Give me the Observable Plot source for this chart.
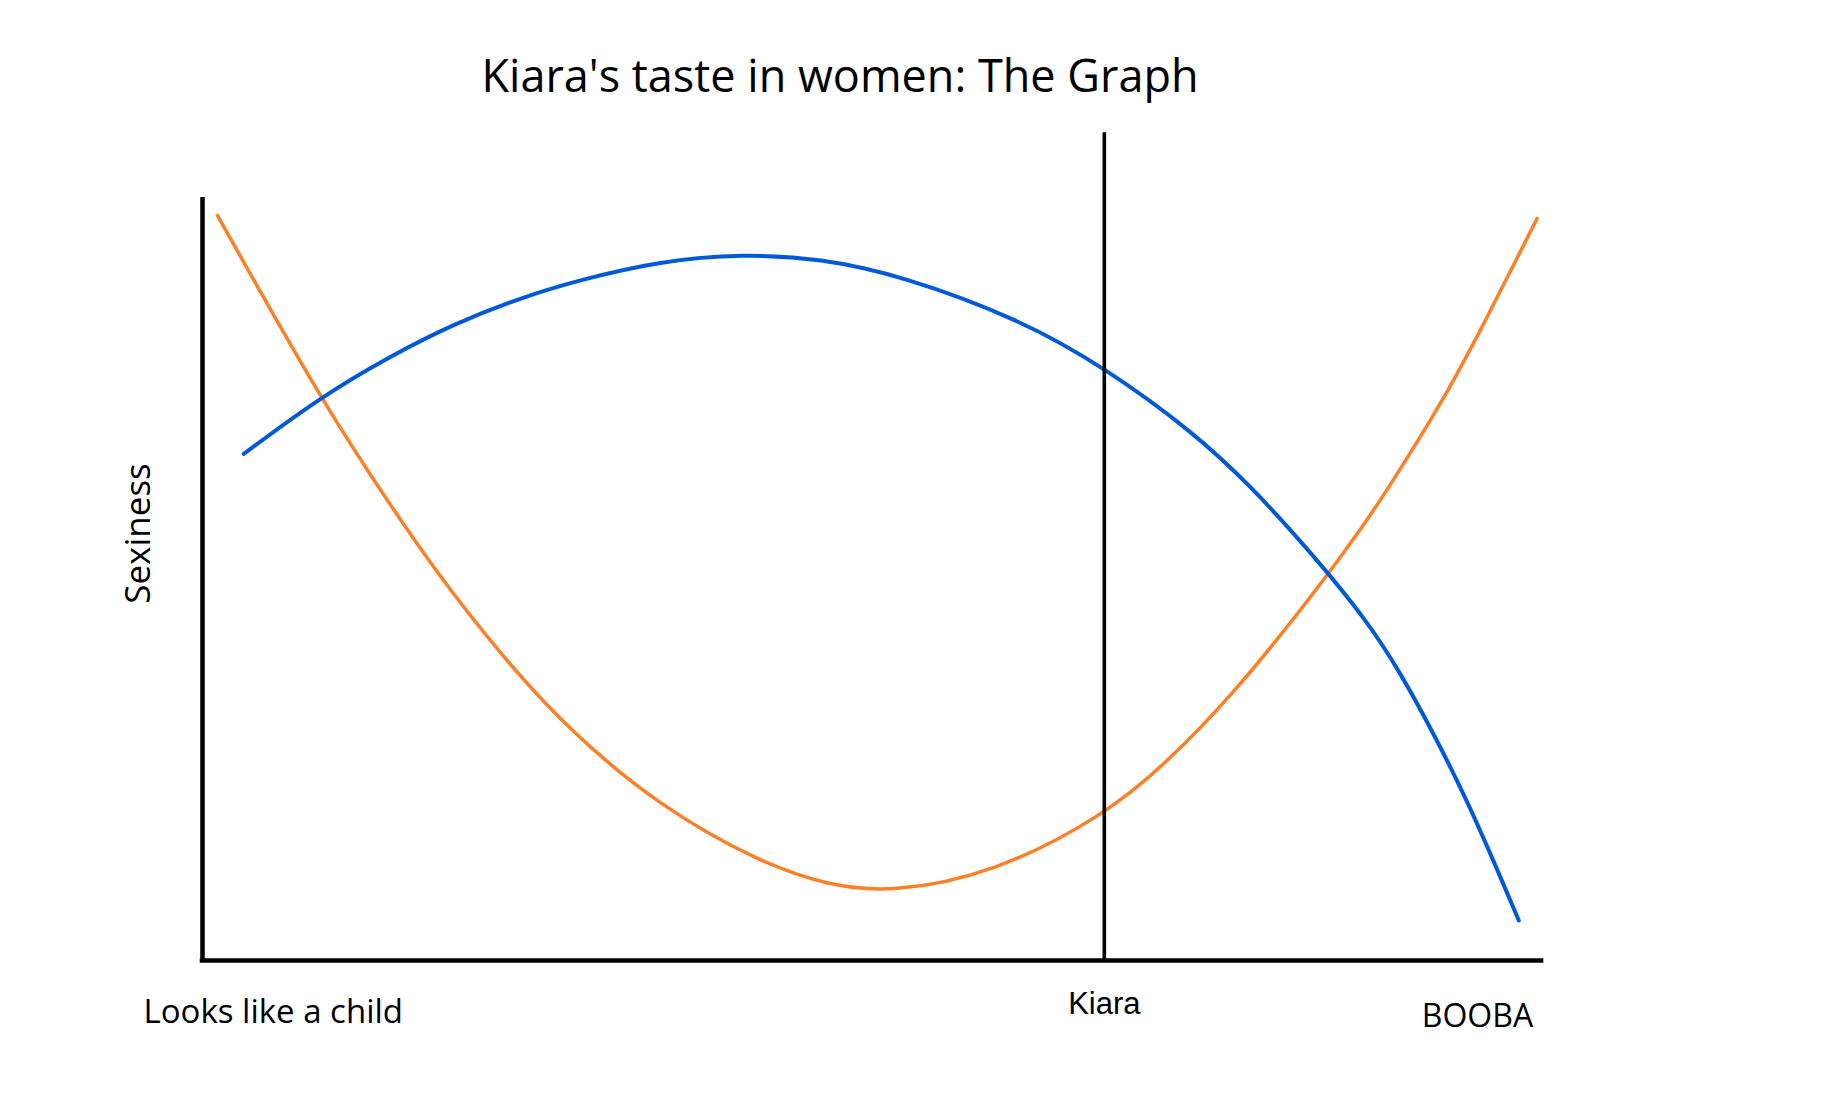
<!DOCTYPE html>
<html>
<head>
<meta charset="utf-8">
<script src="https://cdn.jsdelivr.net/npm/d3@7"></script>
<script src="https://cdn.jsdelivr.net/npm/@observablehq/plot@0.6"></script>
<style>
  html, body { margin: 0; padding: 0; background: #fff; }
</style>
</head>
<body>
<div id="chart"></div>
<script>
// ---- data ----
const title = "Kiara's taste in women: The Graph";
const yLabel = "Sexiness";

// blue curve (x: "child" → "BOOBA", y: sexiness)
const blueX = [3.08, 8.81, 13.78, 18.75, 23.73, 27.96, 34.18, 40.37, 46.12, 52.09, 61.04, 67.31, 73.88, 78.21, 82.91, 86.92, 89.40, 91.89, 94.38, 96.87, 98.23];
const blueY = [66.41, 73.83, 78.99, 83.45, 86.85, 89.12, 91.7, 92.6, 92.0, 89.8, 84.01, 77.72, 69.33, 62.25, 53.1, 44.5, 37.7, 29.71, 20.97, 10.92, 5.24];

// orange curve
const orangeX = [1.12, 3.83, 8.81, 12.29, 17.31, 22.50, 27.36, 34.18, 41.64, 46.78, 51.34, 59.03, 67.31, 71.99, 76.96, 81.94, 85.43, 87.91, 90.40, 92.89, 95.37, 97.86, 99.60];
const orangeY = [97.64, 89.12, 73.83, 64.22, 51.11, 39.58, 30.14, 20.1, 12.8, 9.8, 8.9, 11.4, 19.0, 25.95, 34.99, 45.87, 54.00, 60.29, 67.23, 74.44, 82.57, 91.22, 97.25];

// Kiara marker
const kiaraX = [67.3];
const kiaraTop = [108.5];

// x tick labels
const tickLabels = ["Looks like a child", "Kiara", "BOOBA"];
const tickX = [-4.4, 67.3, 99.3];

// ---- build ----
const blue = blueX.map((x, i) => ({x, y: blueY[i]}));
const orange = orangeX.map((x, i) => ({x, y: orangeY[i]}));
const ticks = tickLabels.map((label, i) => ({label, x: tickX[i]}));

const segoe = "'Open Sans', 'Noto Sans', sans-serif";

const chart = Plot.plot({
  width: 1846,
  height: 1117,
  marginLeft: 202,
  marginRight: 304,
  marginTop: 197,
  marginBottom: 157,
  x: {domain: [0, 100], axis: null},
  y: {domain: [0, 100], axis: null},
  style: {background: "#fff", overflow: "visible"},
  marks: [
    Plot.line(orange, {x: "x", y: "y", curve: "basis", stroke: "#ff7f27", strokeWidth: 3.5}),
    Plot.line(blue, {x: "x", y: "y", curve: "basis", stroke: "#005ad8", strokeWidth: 4}),
    Plot.ruleX(kiaraX, {x: d => d, y1: 0, y2: (d, i) => kiaraTop[i], stroke: "#000", strokeWidth: 3.6}),
    Plot.ruleX([0], {y1: 0, y2: 100, stroke: "#000", strokeWidth: 4.5}),
    Plot.ruleY([0], {x1: -0.17, x2: 100.1, stroke: "#000", strokeWidth: 4.5}),
    // tick labels
    Plot.text(ticks.filter(d => d.label === tickLabels[0]), {x: "x", y: 0, text: "label", textAnchor: "start", lineAnchor: "bottom", dy: 62, fontSize: 33, fontFamily: segoe, fill: "#000"}),
    Plot.text(ticks.filter(d => d.label === tickLabels[1]), {x: "x", y: 0, text: "label", textAnchor: "middle", lineAnchor: "bottom", dy: 53, fontSize: 31, fontFamily: "'Liberation Sans', Arial, sans-serif", fill: "#000"}),
    Plot.text(ticks.filter(d => d.label === tickLabels[2]), {x: "x", y: 0, text: "label", textAnchor: "end", lineAnchor: "bottom", dy: 66, fontSize: 32, fontFamily: segoe, fill: "#000"}),
    // y label
    Plot.text([yLabel], {frameAnchor: "left", text: d => d, rotate: -90, textAnchor: "middle", lineAnchor: "bottom", dx: -53, dy: -45.5, fontSize: 35, fontFamily: segoe, fill: "#000"}),
    // title
    Plot.text([title], {frameAnchor: "top", text: d => d, textAnchor: "middle", lineAnchor: "bottom", dx: -32.5, dy: -106, fontSize: 45, fontFamily: segoe, fill: "#000"})
  ]
});
document.getElementById("chart").appendChild(chart);
</script>
</body>
</html>
